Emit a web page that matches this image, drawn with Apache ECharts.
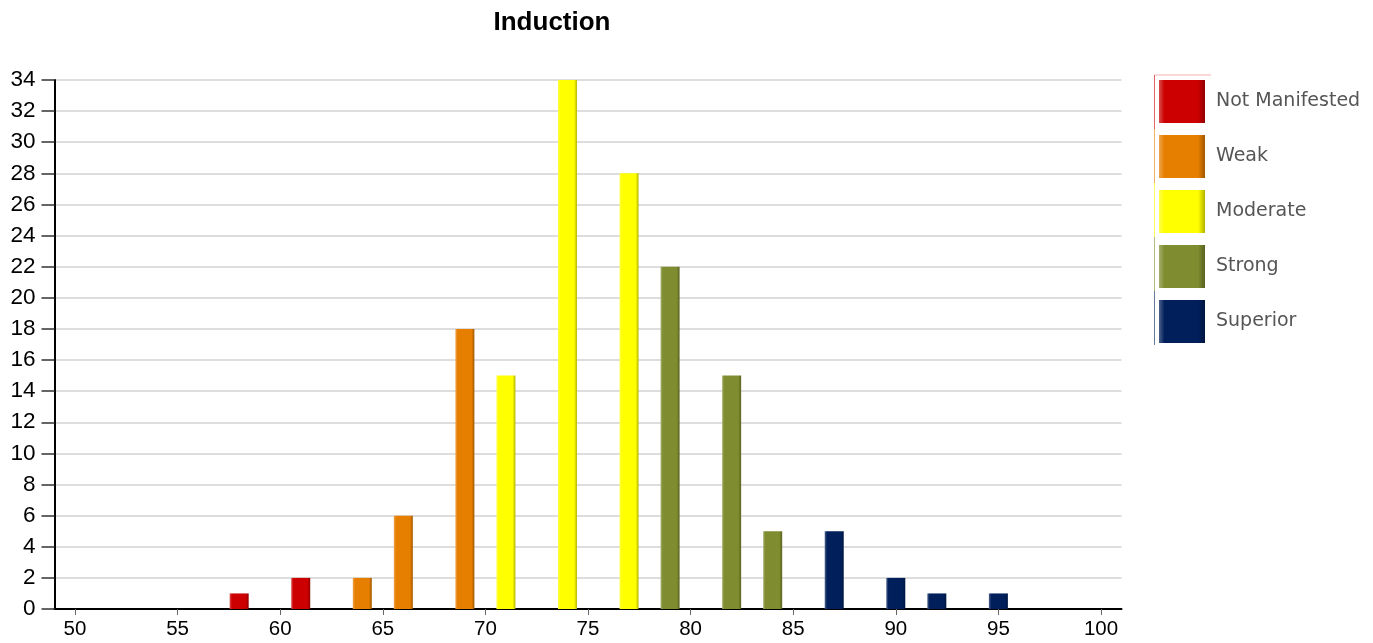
<!DOCTYPE html>
<html>
<head>
<meta charset="utf-8">
<script src="https://cdn.jsdelivr.net/npm/echarts@6/dist/echarts.min.js"></script>
<style>html,body{margin:0;padding:0;background:#fff}#c{width:1373px;height:643px}</style>
</head>
<body>
<div id="c"></div>
<script>
const seriesNames = ['Not Manifested', 'Weak', 'Moderate', 'Strong', 'Superior'];
const seriesColors = ['#cc0000', '#e67e00', '#ffff00', '#7f8c2f', '#001f5b'];
const notManifested = [[58, 1], [61, 2]];
const weak = [[64, 2], [66, 6], [69, 18]];
const moderate = [[71, 15], [74, 34], [77, 28]];
const strong = [[79, 22], [82, 15], [84, 5]];
const superior = [[87, 5], [90, 2], [92, 1], [95, 1]];
const xTicks = [50, 55, 60, 65, 70, 75, 80, 85, 90, 95, 100];
const seriesData = [notManifested, weak, moderate, strong, superior];

function shade(hex, f) {
  const n = parseInt(hex.slice(1), 16);
  let r = (n >> 16) & 255, g = (n >> 8) & 255, b = n & 255;
  const m = v => Math.max(0, Math.min(255, Math.round(f > 0 ? v + (255 - v) * f : v * (1 + f))));
  return 'rgb(' + m(r) + ',' + m(g) + ',' + m(b) + ')';
}

const chart = echarts.init(document.getElementById('c'));
const option = {
  animation: false,
  backgroundColor: '#fff',
  title: {
    text: 'Induction',
    left: 547, top: 5, textAlign: 'center',
    textStyle: { fontFamily: 'Liberation Sans', fontWeight: 'bold', fontSize: 26, color: '#000' }
  },
  legend: {
    orient: 'vertical',
    left: 1154, top: 75,
    itemWidth: 46, itemHeight: 43, itemGap: 12,
    icon: 'rect',
    data: seriesNames,
    textStyle: { fontFamily: 'DejaVu Sans', fontSize: 19, color: '#555', padding: [3, 0, 0, 6] }
  },
  grid: { left: 54.5, right: 251.5, top: 80, bottom: 34, containLabel: false },
  xAxis: {
    type: 'value', min: 49, max: 101,
    axisLine: { lineStyle: { color: '#000', width: 2 } },
    axisTick: { show: true, customValues: xTicks, length: 6, lineStyle: { color: '#666' } },
    axisLabel: { customValues: xTicks, fontFamily: 'Liberation Sans', fontSize: 20.5, color: '#000', margin: 10 },
    splitLine: { show: false }
  },
  yAxis: {
    type: 'value', min: 0, max: 34, interval: 2,
    axisLine: { show: true, lineStyle: { color: '#000', width: 2 } },
    axisTick: { show: true, length: 13, lineStyle: { color: '#333', width: 1.5 } },
    axisLabel: { fontFamily: 'Liberation Sans', fontSize: 22.5, color: '#000', margin: 19 },
    splitLine: { lineStyle: { color: '#ddd', width: 2 } }
  },
  series: seriesNames.map((name, i) => ({
    name: name,
    type: 'bar',
    data: seriesData[i],
    barWidth: 19,
    barGap: '-100%',
    itemStyle: {
      color: {
        type: 'linear', x: 0, y: 0, x2: 1, y2: 0,
        colorStops: [
          { offset: 0, color: shade(seriesColors[i], 0.3) },
          { offset: 0.12, color: seriesColors[i] },
          { offset: 0.85, color: seriesColors[i] },
          { offset: 1, color: shade(seriesColors[i], -0.3) }
        ]
      }
    }
  })),
  graphic: [
    { type: 'line', shape: { x1: 1154.5, y1: 75, x2: 1211, y2: 75 }, style: { stroke: '#f2b0b0', lineWidth: 1 } }
  ].concat(seriesColors.map((c, i) => ({
    type: 'line', shape: { x1: 1154.5, y1: 75 + i * 54, x2: 1154.5, y2: 75 + (i + 1) * 54 },
    style: { stroke: c, lineWidth: 1, opacity: 0.6 }
  })))
};
chart.setOption(option);
</script>
</body>
</html>
